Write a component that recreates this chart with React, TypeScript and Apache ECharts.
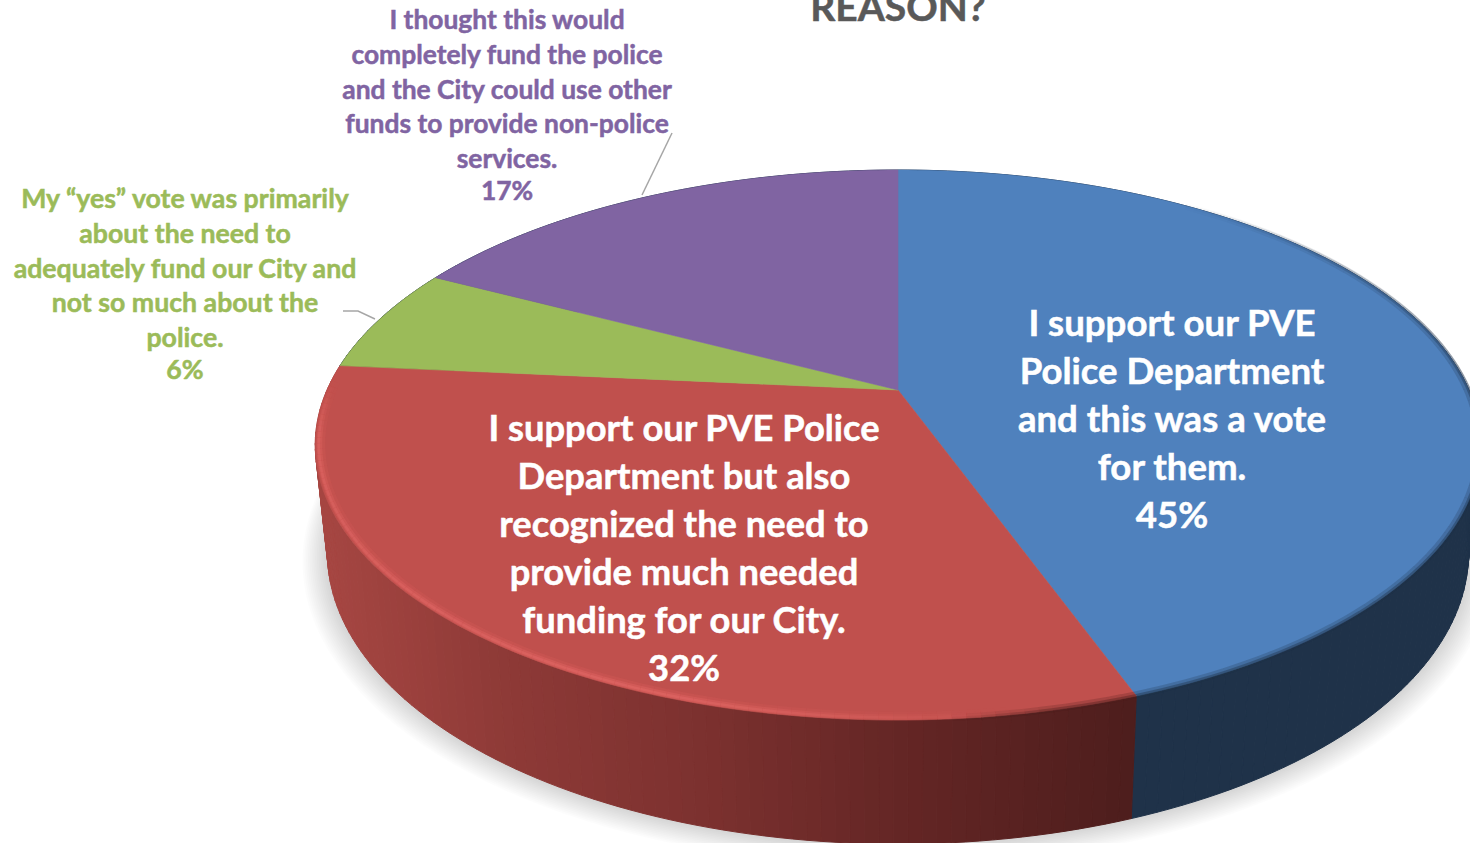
import React, { useEffect, useRef } from "react";
import * as echarts from "echarts";

const titleText = "REASON?";
const categories = [
  ["I support our PVE", "Police Department", "and this was a vote", "for them."],
  ["I support our PVE Police", "Department but also", "recognized the need to", "provide much needed", "funding for our City."],
  ["My “yes” vote was primarily", "about the need to", "adequately fund our City and", "not so much about the", "police."],
  ["I thought this would", "completely fund the police", "and the City could use other", "funds to provide non-police", "services."],
];
const values = [44.5, 32.0, 6.2, 17.3];
const percentLabels = ["45%", "32%", "6%", "17%"];
const topColors = ["#4F81BD", "#C0504D", "#9BBB59", "#8064A2"];
const textColors = ["#FFFFFF", "#FFFFFF", "#9BBB59", "#8064A2"];
const blueWall = "#1F3249";

// layout of the labels: centre x, first line y, line step, y of percentage, size
const labelLayout = [
  { x: 1172, y: 321.5, step: 48, py: 513.5, size: 36.6 },
  { x: 684, y: 426.5, step: 48, py: 666.5, size: 36.3 },
  { x: 185, y: 198, step: 34.75, py: 369, size: 26.7 },
  { x: 507, y: 19, step: 34.75, py: 190, size: 26.4 },
];

// projection of the pie's planes
const CX = 898;
const top = { A: 571, a: -186, b: 390, c: 0.2 };
const bottom = { A: 559, a: -180.5, b: 494.7, c: 0.2 };
const project = (p: typeof top, th: number, r = 1): [number, number] => {
  const u = Math.sin(th) * r;
  const v = Math.cos(th) * r;
  const d = 1 + p.c * v;
  return [CX + (p.A * u) / d, (p.a * v + p.b) / d];
};

const lerpStops = (stops: number[][], x: number): number[] => {
  if (x <= stops[0][0]) return stops[0].slice(1);
  for (let i = 1; i < stops.length; i++) {
    if (x <= stops[i][0]) {
      const a = stops[i - 1];
      const b = stops[i];
      const t = (x - a[0]) / (b[0] - a[0]);
      return a.slice(1).map((va, k) => va + (b[k + 1] - va) * t);
    }
  }
  return stops[stops.length - 1].slice(1);
};
const redWallStops = [
  [320, 166, 70, 66],
  [500, 142, 58, 55],
  [700, 124, 49, 47],
  [900, 100, 38, 37],
  [1130, 78, 30, 29],
];
const highlightStops = [
  [320, 0.75],
  [450, 0.85],
  [650, 1],
  [800, 0.65],
  [950, 0.2],
  [1010, 0],
];
const darkEdgeStops = [
  [950, 0],
  [1050, 0.55],
  [1140, 0.6],
];
const blueEdgeStops = [
  [0.6, 0],
  [1.0, 0.3],
  [1.5, 0.55],
  [3.0, 0.6],
];

const total = values.reduce((s, v) => s + v, 0);
const angleOf = (i: number) => (values.slice(0, i).reduce((s, v) => s + v, 0) / total) * Math.PI * 2;
const STEP = Math.PI / 150;
const sweep = (i: number): number[] => {
  const t0 = angleOf(i);
  const t1 = angleOf(i + 1);
  const n = Math.max(2, Math.ceil((t1 - t0) / STEP));
  return Array.from({ length: n + 1 }, (_, k) => t0 + ((t1 - t0) * k) / n);
};

const renderShadow = () => {
  const children: any[] = [];
  const layers = 14;
  for (let l = layers; l >= 1; l--) {
    const e = (l / layers) * 24;
    const pts = Array.from({ length: 181 }, (_, k) => {
      const p = project(bottom, (k / 180) * Math.PI * 2, 1 + e / 570);
      return [p[0], p[1] + e * 0.15];
    });
    children.push({ type: "polygon", shape: { points: pts }, style: { fill: "rgba(0,0,0,0.0105)" } });
  }
  return { type: "group", children };
};

const renderWall = (params: any) => {
  const i = params.dataIndex;
  const th = sweep(i);
  const children: any[] = [];
  for (let k = 0; k < th.length - 1; k++) {
    const p0 = project(top, th[k]);
    const p1 = project(top, th[k + 1]);
    const q0 = project(bottom, th[k]);
    const q1 = project(bottom, th[k + 1]);
    const rgb = lerpStops(redWallStops, (p0[0] + p1[0]) / 2).map(Math.round);
    const fill = i === 1 ? `rgb(${rgb.join(",")})` : blueWall;
    children.push({
      type: "polygon",
      shape: { points: [p0, p1, q1, q0] },
      style: { fill, stroke: fill, lineWidth: 1 },
    });
  }
  return { type: "group", children };
};

const segment = (th0: number, th1: number, r: number, stroke: string, lineWidth: number, opacity: number) => {
  const a = project(top, th0, r);
  const b = project(top, th1, r);
  return {
    type: "line",
    shape: { x1: a[0], y1: a[1], x2: b[0], y2: b[1] },
    style: { stroke, lineWidth, opacity },
  };
};

const renderTop = (params: any) => {
  const i = params.dataIndex;
  const th = sweep(i);
  const fill = topColors[i];
  const apex: [number, number] = [CX, top.b];
  const children: any[] = [
    {
      type: "polygon",
      shape: { points: [apex, ...th.map((t) => project(top, t))] },
      style: { fill, stroke: fill, lineWidth: 0.6 },
    },
  ];
  for (let k = 0; k < th.length - 1; k++) {
    const a = project(top, th[k]);
    const b = project(top, th[k + 1]);
    const mx = (a[0] + b[0]) / 2;
    if (i === 1) {
      const h = lerpStops(highlightStops, mx)[0];
      const dark = lerpStops(darkEdgeStops, mx)[0];
      const fadeTop = Math.min(1, Math.max(0, (a[1] - 385) / 50));
      const f = h * fadeTop;
      if (f > 0.01) {
        children.push(segment(th[k], th[k + 1], 0.991, "#D95C5A", 9, 0.3 * f));
        children.push(segment(th[k], th[k + 1], 0.993, "#E06462", 5.5, 0.45 * f));
        children.push(segment(th[k], th[k + 1], 0.994, "#E66C6A", 2.5, 0.45 * f));
      }
      if (dark > 0.01) {
        children.push(segment(th[k], th[k + 1], 0.997, "#4F1F1E", 7, dark * 0.4));
        children.push(segment(th[k], th[k + 1], 1, "#4F1F1E", 4, dark * 0.7));
      }
    } else if (i === 0) {
      const o = lerpStops(blueEdgeStops, th[k])[0];
      if (o > 0.01) {
        children.push(segment(th[k], th[k + 1], 0.997, blueWall, 7, o * 0.4));
        children.push(segment(th[k], th[k + 1], 1, blueWall, 4, o * 0.7));
      }
    }
  }
  return { type: "group", children };
};

const buildLabels = (): any[] => {
  const out: any[] = [];
  categories.forEach((lines, i) => {
    const l = labelLayout[i];
    const base = {
      fill: textColors[i],
      stroke: textColors[i],
      lineWidth: 0.5,
      font: `bold ${l.size}px Lato`,
      textAlign: "center",
      textVerticalAlign: "middle",
    };
    lines.forEach((t, k) => {
      out.push({ type: "text", x: l.x, y: l.y + k * l.step, style: { ...base, text: t } });
    });
    out.push({ type: "text", x: l.x, y: l.py, style: { ...base, text: percentLabels[i] } });
  });
  out.push({
    type: "text",
    x: 898,
    y: 6,
    style: {
      text: titleText,
      fill: "#595959",
      stroke: "#595959",
      lineWidth: 0.5,
      font: "bold 39px Lato",
      textAlign: "center",
      textVerticalAlign: "middle",
    },
  });
  out.push({
    type: "polyline",
    shape: { points: [[672, 133], [642, 195]] },
    style: { stroke: "#A6A6A6", lineWidth: 1.5, fill: "none" },
  });
  out.push({
    type: "polyline",
    shape: { points: [[343, 311], [358, 311], [375, 319]] },
    style: { stroke: "#A6A6A6", lineWidth: 1.5, fill: "none" },
  });
  return out;
};

export default function App() {
  const ref = useRef<HTMLDivElement>(null);
  useEffect(() => {
    document.body.style.margin = "0";
    document.body.style.overflow = "hidden";
    const chart = echarts.init(ref.current!, undefined, { renderer: "svg" });
    const data = values.map((v) => [v]);
    chart.setOption({
      animation: false,
      backgroundColor: "#FFFFFF",
      graphic: { elements: buildLabels().map((e) => ({ ...e, z: 100 })) },
      series: [
        { type: "custom", coordinateSystem: "none", silent: true, z: 1, data: [[1]], renderItem: renderShadow },
        { type: "custom", coordinateSystem: "none", silent: true, z: 2, data, renderItem: renderWall },
        { type: "custom", coordinateSystem: "none", silent: true, z: 3, data, renderItem: renderTop },
      ],
    });
    return () => chart.dispose();
  }, []);
  return <div ref={ref} style={{ position: "absolute", left: 0, top: 0, width: 1470, height: 843 }} />;
}
